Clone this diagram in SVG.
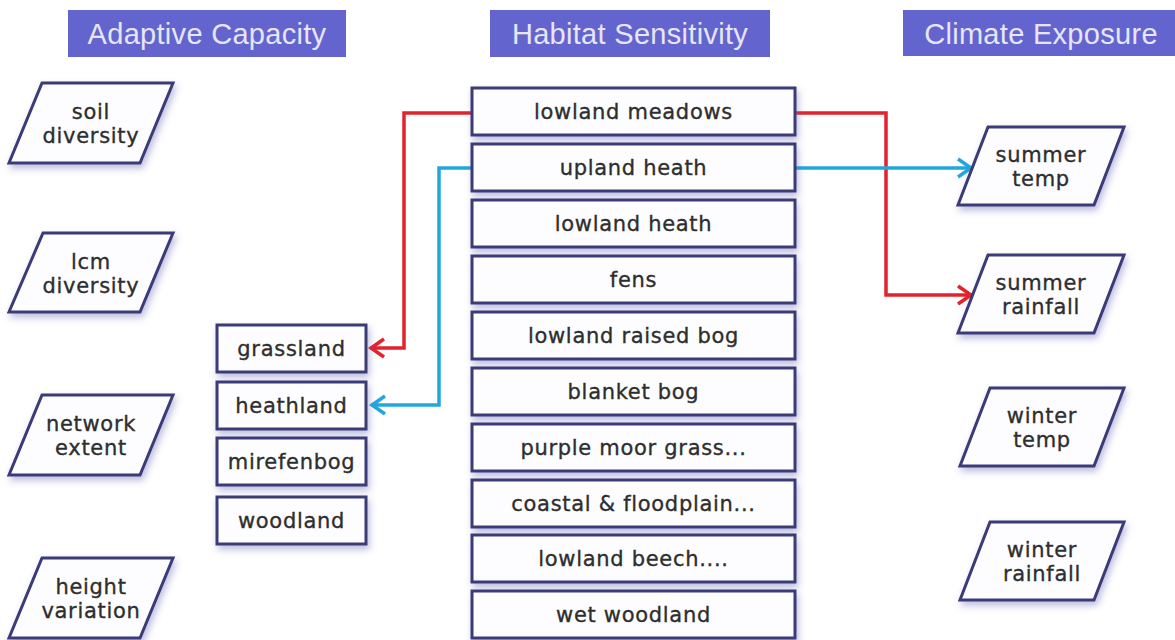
<svg xmlns="http://www.w3.org/2000/svg" width="1175" height="640" viewBox="0 0 1175 640">
<defs>
<filter id="sh" x="-20%" y="-20%" width="140%" height="150%">
<feDropShadow dx="2" dy="4" stdDeviation="3.5" flood-color="#6a6ab8" flood-opacity="0.45"/>
</filter>
<marker id="arE" viewBox="0 0 20 22" refX="17" refY="11" markerWidth="20" markerHeight="22" markerUnits="userSpaceOnUse" orient="auto">
<path d="M3,2 L16,11 L3,20" fill="none" stroke="#e3222b" stroke-width="3.5"/>
</marker>
<marker id="abE" viewBox="0 0 20 22" refX="17" refY="11" markerWidth="20" markerHeight="22" markerUnits="userSpaceOnUse" orient="auto">
<path d="M3,2 L16,11 L3,20" fill="none" stroke="#22a6dc" stroke-width="3.5"/>
</marker>
</defs>
<style>
.hdr{fill:#6464cf}
.ht{fill:#e6e6f8;font-family:"Liberation Sans",Arial,sans-serif;font-size:29px;letter-spacing:0.3px;text-anchor:middle}
.bx{fill:#fdfdff;stroke:#3b3b78;stroke-width:3;filter:url(#sh)}
.t{fill:#2e2e2e;stroke:#2e2e2e;stroke-width:0.35;font-family:"DejaVu Sans",sans-serif;font-size:21px;letter-spacing:0.7px;text-anchor:middle}
.red{fill:none;stroke:#e3222b;stroke-width:3.5}
.blue{fill:none;stroke:#22a6dc;stroke-width:3.5}
</style>
<rect width="1175" height="640" fill="#ffffff"/>

<g id="hdr-adaptive"><rect class="hdr" x="68" y="10" width="278" height="47"/><text class="ht" x="207" y="44">Adaptive Capacity</text></g>
<g id="hdr-habitat"><rect class="hdr" x="490" y="10" width="280" height="47"/><text class="ht" x="630" y="44">Habitat Sensitivity</text></g>
<g id="hdr-climate"><rect class="hdr" x="903" y="10" width="272" height="46"/><text class="ht" x="1041" y="44">Climate Exposure</text></g>

<g id="connectors">
<path class="red" d="M472,113 H404 V348 H370" marker-end="url(#arE)"/>
<path class="red" d="M795,113 H886 V295 H972" marker-end="url(#arE)"/>
<path class="blue" d="M472,168 H439 V405 H371" marker-end="url(#abE)"/>
<path class="blue" d="M795,168 H972" marker-end="url(#abE)"/>
</g>

<g id="soil-diversity"><polygon class="bx" points="42,83 173,83 140,163 9,163"/><text class="t" x="91" y="119">soil</text><text class="t" x="91" y="143">diversity</text></g>
<g id="lcm-diversity"><polygon class="bx" points="43,233 173,233 140,312 9,312"/><text class="t" x="91" y="269">lcm</text><text class="t" x="91" y="293">diversity</text></g>
<g id="network-extent"><polygon class="bx" points="42,395 173,395 140,475 9,475"/><text class="t" x="91" y="431">network</text><text class="t" x="91" y="455">extent</text></g>
<g id="height-variation"><polygon class="bx" points="42,558 173,558 140,638 9,638"/><text class="t" x="91" y="594">height</text><text class="t" x="91" y="618">variation</text></g>

<g id="grassland"><rect class="bx" x="217" y="325" width="149" height="47"/><text class="t" x="291.5" y="356">grassland</text></g>
<g id="heathland"><rect class="bx" x="217" y="382" width="149" height="47"/><text class="t" x="291.5" y="413">heathland</text></g>
<g id="mirefenbog"><rect class="bx" x="217" y="438" width="149" height="47"/><text class="t" x="291.5" y="469">mirefenbog</text></g>
<g id="woodland"><rect class="bx" x="217" y="497" width="149" height="47"/><text class="t" x="291.5" y="528">woodland</text></g>

<g id="lowland-meadows"><rect class="bx" x="472" y="88" width="323" height="47"/><text class="t" x="633.5" y="119">lowland meadows</text></g>
<g id="upland-heath"><rect class="bx" x="472" y="144" width="323" height="47"/><text class="t" x="633.5" y="175">upland heath</text></g>
<g id="lowland-heath"><rect class="bx" x="472" y="200" width="323" height="47"/><text class="t" x="633.5" y="231">lowland heath</text></g>
<g id="fens"><rect class="bx" x="472" y="256" width="323" height="47"/><text class="t" x="633.5" y="287">fens</text></g>
<g id="lowland-raised-bog"><rect class="bx" x="472" y="312" width="323" height="47"/><text class="t" x="633.5" y="343">lowland raised bog</text></g>
<g id="blanket-bog"><rect class="bx" x="472" y="368" width="323" height="47"/><text class="t" x="633.5" y="399">blanket bog</text></g>
<g id="purple-moor-grass"><rect class="bx" x="472" y="424" width="323" height="47"/><text class="t" x="633.5" y="455">purple moor grass...</text></g>
<g id="coastal-floodplain"><rect class="bx" x="472" y="480" width="323" height="47"/><text class="t" x="633.5" y="511">coastal &amp; floodplain...</text></g>
<g id="lowland-beech"><rect class="bx" x="472" y="535" width="323" height="47"/><text class="t" x="633.5" y="566">lowland beech....</text></g>
<g id="wet-woodland"><rect class="bx" x="472" y="591" width="323" height="47"/><text class="t" x="633.5" y="622">wet woodland</text></g>

<g id="summer-temp"><polygon class="bx" points="988,127 1124,127 1094,205 958,205"/><text class="t" x="1041" y="162">summer</text><text class="t" x="1041" y="186">temp</text></g>
<g id="summer-rainfall"><polygon class="bx" points="988,255 1124,255 1094,333 958,333"/><text class="t" x="1041" y="290">summer</text><text class="t" x="1041" y="314">rainfall</text></g>
<g id="winter-temp"><polygon class="bx" points="990,388 1124,388 1094,466 960,466"/><text class="t" x="1042" y="423">winter</text><text class="t" x="1042" y="447">temp</text></g>
<g id="winter-rainfall"><polygon class="bx" points="990,522 1124,522 1094,600 960,600"/><text class="t" x="1042" y="557">winter</text><text class="t" x="1042" y="581">rainfall</text></g>
</svg>
